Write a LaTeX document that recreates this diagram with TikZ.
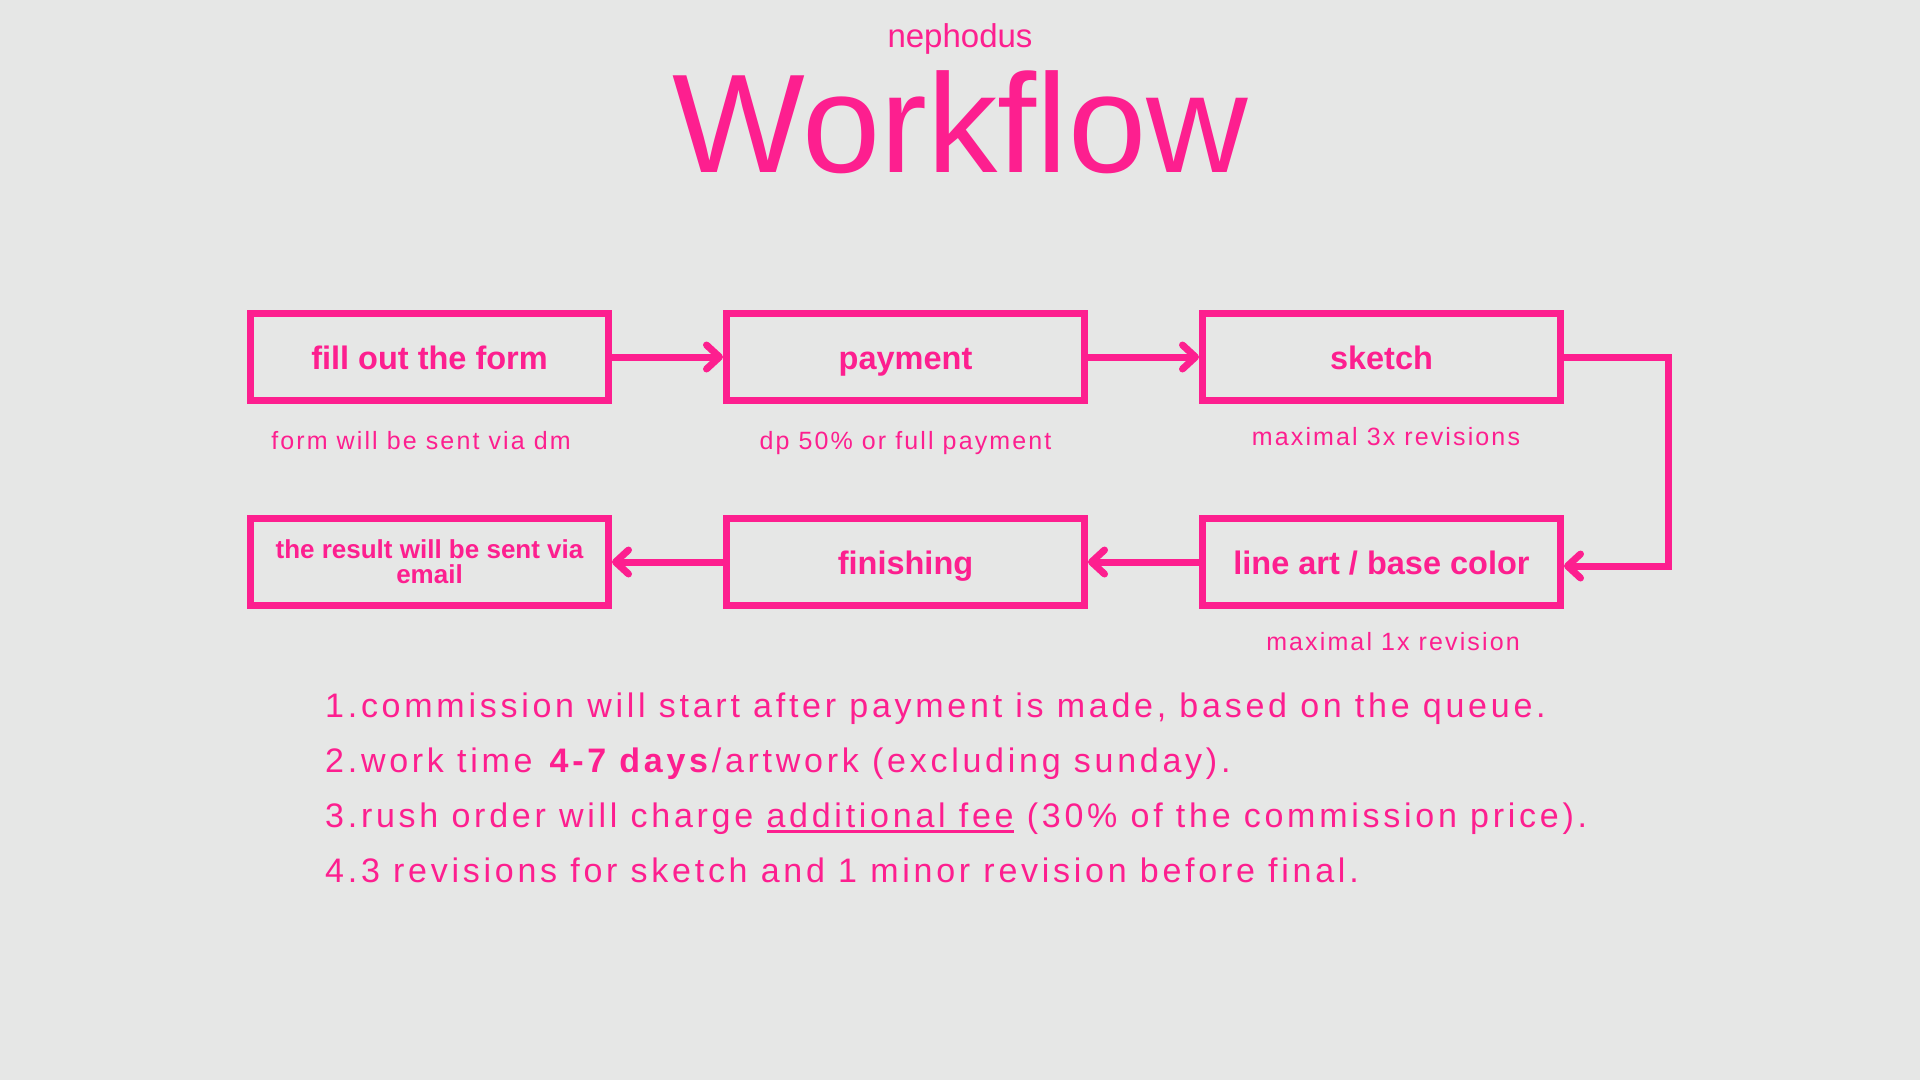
\documentclass[tikz,border=0pt]{standalone}
\usepackage{fontspec}
\setmainfont{Liberation Sans}
\newfontfamily\spacedfont{Liberation Sans}[LetterSpace=8.5]
\newfontfamily\termfont{Liberation Sans}[LetterSpace=11]
\usetikzlibrary{arrows.meta,positioning}
\definecolor{hotpink}{RGB}{253,31,143}
\definecolor{paper}{RGB}{230,231,230}
\newsavebox{\feebox}
\newcommand{\feeline}[1]{\sbox{\feebox}{#1}\rlap{\rule[-5.5pt]{\wd\feebox}{3pt}}\usebox{\feebox}}
\tikzset{
  stepbox/.style={draw=hotpink,line width=7pt,minimum width=358pt,
    minimum height=87pt,inner sep=0pt,text=hotpink,align=center,
    font=\fontsize{32.5}{34}\selectfont\bfseries,text height=24pt,text depth=0pt},
  flow/.style={-{Straight Barb[length=13pt,width=24pt,line cap=round,line join=round]},
    line width=7pt,draw=hotpink},
  note/.style={text=hotpink,inner sep=0pt,text height=18.75pt,text depth=0pt,
    font=\spacedfont\fontsize{25}{27}\selectfont},
  termline/.style={text=hotpink,inner sep=0pt,anchor=base west,
    font=\termfont\fontsize{34}{40}\selectfont},
  heading/.style={text=hotpink,inner sep=0pt,anchor=base}
}
\begin{document}
\begin{tikzpicture}[x=1pt,y=-1pt,node distance=111pt and 111pt]
  \fill[paper] (0,0) rectangle (1920,1080);
  \useasboundingbox (0,0) rectangle (1920,1080);
  % title
  \node[heading,font=\fontsize{33}{36}\selectfont] (brand) at (960,47) {nephodus};
  \node[heading,font=\fontsize{140.6}{150}\selectfont] (title) at (960,172) {Workflow};
  % steps
  \node[stepbox] (form) at (429.5,357) {fill out the form};
  \node[stepbox,right=of form] (payment) {payment};
  \node[stepbox,right=of payment] (sketch) {sketch};
  \node[stepbox,below=of sketch] (lineart) {line art / base color};
  \node[stepbox,left=of lineart] (finishing) {finishing};
  \node[stepbox,left=of finishing,font=\fontsize{26}{25}\selectfont\bfseries,
    text height=42pt] (result) {the result will be sent via\\email};
  \coordinate (bend) at (1668,566);
  \draw[flow] (form) -- (payment);
  \draw[flow] (payment) -- (sketch);
  \draw[flow] (sketch.east) -| (bend) -- (bend -| lineart.east);
  \draw[flow] (lineart) -- (finishing);
  \draw[flow] (finishing) -- (result);
  % notes under the steps
  \node[note,below=27pt of form,xshift=-8.5pt] (formnote) {form will be sent via dm};
  \node[note,below=27pt of payment] (paynote) {dp 50\% or full payment};
  \node[note,below=23pt of sketch,xshift=4.5pt] (sketchnote) {maximal 3x revisions};
  \node[note,below=23pt of lineart,xshift=11.5pt] (lineartnote) {maximal 1x revision};
  % terms
  \node[termline] (termone) at (325,717) {1.commission will start after payment is made, based on the queue.};
  \node[termline] (termtwo) at (325,772) {2.work time \textbf{4-7 days}/artwork (excluding sunday).};
  \node[termline] (termthree) at (325,827) {3.rush order will charge \feeline{additional fee} (30\% of the commission price).};
  \node[termline] (termfour) at (325,882) {4.3 revisions for sketch and 1 minor revision before final.};
\end{tikzpicture}
\end{document}
